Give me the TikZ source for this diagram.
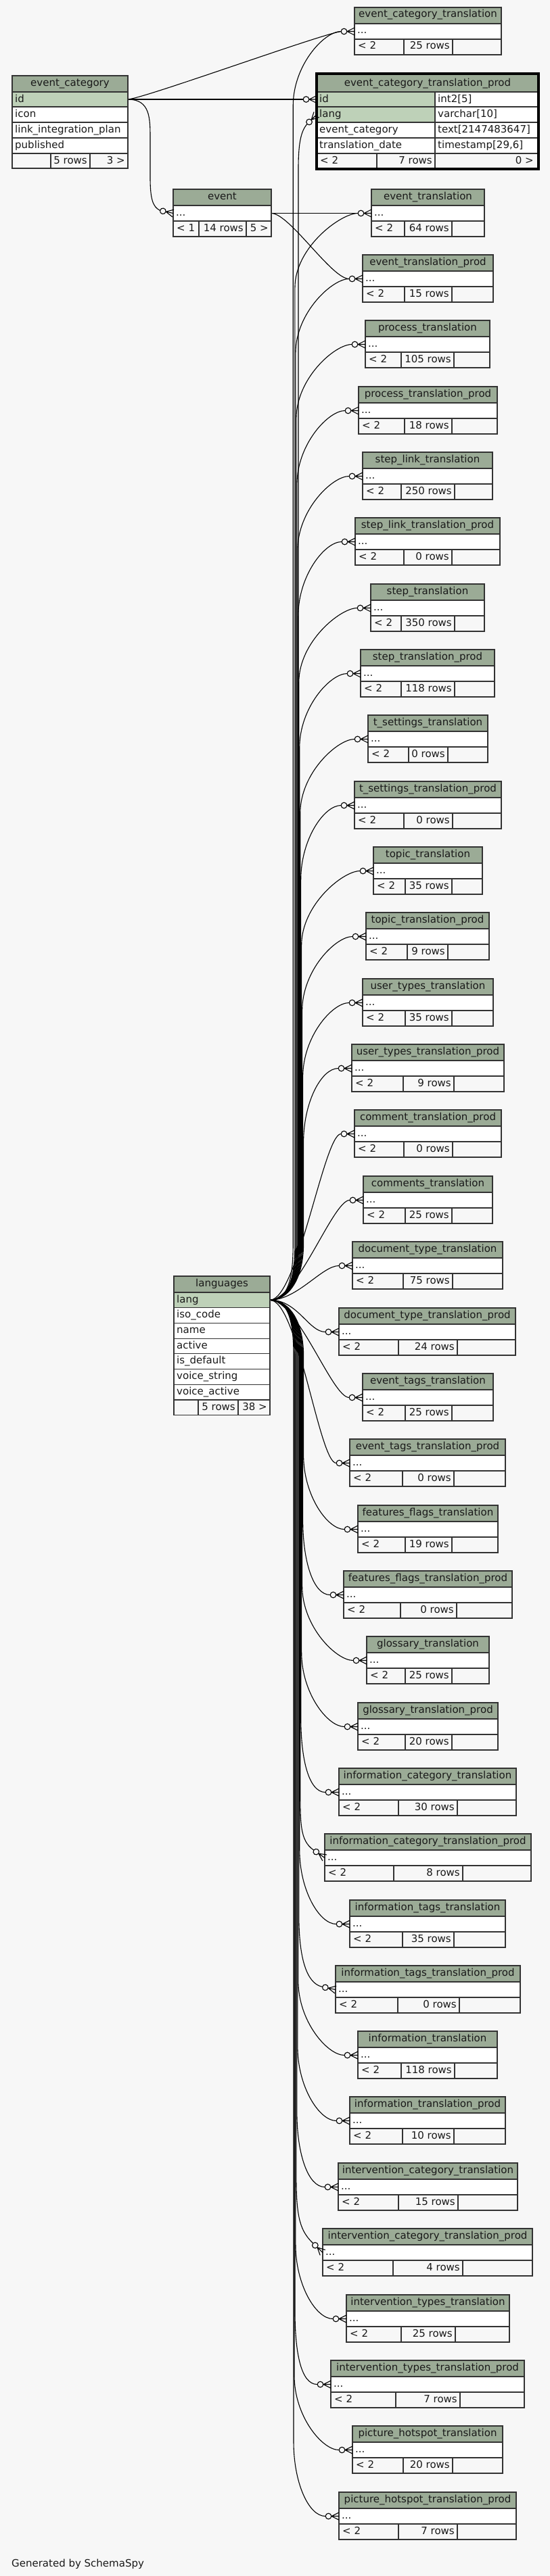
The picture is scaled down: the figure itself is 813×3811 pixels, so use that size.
\documentclass[tikz,border=0pt]{standalone}
\usepackage{fontspec}
\setmainfont{DejaVu Sans}
\usetikzlibrary{calc}
\definecolor{bgc}{HTML}{F7F7F7}
\definecolor{hdrc}{HTML}{9BAB96}
\definecolor{keyc}{HTML}{BED1B8}
\tikzset{
  conn/.style={line width=1.1pt, black},
  gridln/.style={line width=1.2pt, black!80},
  tabout/.style={line width=1.4pt, black!80},
  lbl/.style={inner sep=0pt, font=\fontsize{15}{18}\selectfont, text=black!90},
  crowodot/.pic={
    \draw[line width=1.1pt] (-11,0) -- (0,-5.5) (-11,0) -- (0,0) (-11,0) -- (0,5.5);
    \draw[line width=1.1pt, fill=bgc] (-15.5,0) circle[radius=4.3pt];
  }
}
% link from languages.lang to a translation table
\newcommand\llink[4]{%
  \pgfmathsetmacro\yv{#3}%
  \pgfmathsetmacro\dyv{\yv-1923}%
  \pgfmathsetmacro\bxv{452-0.01*abs(\dyv)}%
  \pgfmathsetmacro\exv{-20*cos(#4)}%
  \pgfmathsetmacro\eyv{-20*sin(#4)}%
  \pgfmathsetmacro\cxv{#2-45*cos(#4)}%
  \pgfmathsetmacro\cyv{\yv-45*sin(#4)}%
  \pgfmathtruncatemacro\modev{ifthenelse(\dyv<-300,1,ifthenelse(\dyv>300,2,0))}%
  \ifcase\modev
    \draw[conn] (Llang) .. controls (440,1923) and (\cxv,\cyv) .. ($(#1)+(\exv,\eyv)$);
  \or
    \draw[conn] (Llang) .. controls (425,1923) and (\bxv,1895) .. (\bxv,1840) -- (\bxv,\yv+110) .. controls (\bxv,\yv+50) and (\cxv,\cyv) .. ($(#1)+(\exv,\eyv)$);
  \or
    \draw[conn] (Llang) .. controls (425,1923) and (\bxv,1951) .. (\bxv,2006) -- (\bxv,\yv-110) .. controls (\bxv,\yv-50) and (\cxv,\cyv) .. ($(#1)+(\exv,\eyv)$);
  \fi
}
% standard translation table: name, x1, x2, top, rows, split1, split2, arrow angle
\newcommand\stdtab[8]{%
  \fill[hdrc] (#2,#4) rectangle (#3,#4+24);
  \fill[white] (#2,#4+24) rectangle (#3,#4+47);
  \fill[bgc] (#2,#4+47) rectangle (#3,#4+70);
  \draw[gridln] (#2,#4+47) -- (#3,#4+47) (#6,#4+47) -- (#6,#4+70) (#7,#4+47) -- (#7,#4+70);
  \draw[gridln, line width=2pt] (#2,#4+24) -- (#3,#4+24);
  \draw[tabout] (#2,#4) rectangle (#3,#4+70);
  \node[lbl, anchor=base] (#1-title) at ({(#2+#3)/2},#4+15) {#1};
  \node[lbl, anchor=base west] (#1-cols) at (#2+4,#4+39) {...};
  \node[lbl, anchor=base west] (#1-parents) at (#2+5,#4+62) {< 2};
  \node[lbl, anchor=base east] (#1-rows) at (#7-4,#4+62) {#5};
  \coordinate (#1) at (#2,#4+35.5);
  \llink{#1}{#2}{#4+35.5}{#8}
  \pic[rotate=-#8] at (#1) {crowodot};
}
\catcode`\_=12
\begin{document}
\begin{tikzpicture}[x=1pt,y=-1pt]
\useasboundingbox (0,0) rectangle (813,3811);
\fill[bgc] (0,0) rectangle (813,3811);

% anchor coordinates of fixed tables
\coordinate (Llang) at (399,1923.3);
\coordinate (ec-id) at (189,147);
\coordinate (ectp-id) at (468,147);
\coordinate (ectp-lang) at (468,169.5);
\coordinate (event-in) at (256,315.5);
\coordinate (event-out) at (401,315.5);

% ---------- standard translation tables with links from languages ----------
\foreach \n/\xa/\xb/\yt/\rw/\sa/\sb/\ag in {
event_category_translation/524/741/11/25 rows/597/669/0,
event_translation/549/716/280/64 rows/598/668/0,
event_translation_prod/536/729/377/15 rows/598/668/0,
process_translation/540/724/474/105 rows/593/671/0,
process_translation_prod/530/735/572/18 rows/598/668/0,
step_link_translation/536/728/669/250 rows/593/672/0,
step_link_translation_prod/525/739/766/0 rows/597/668/0,
step_translation/548/716/864/350 rows/593/672/0,
step_translation_prod/533/731/961/118 rows/593/672/0,
t_settings_translation/544/721/1058/0 rows/604/662/0,
t_settings_translation_prod/524/741/1156/0 rows/597/669/0,
topic_translation/552/713/1253/35 rows/599/668/0,
topic_translation_prod/541/723/1350/9 rows/602/662/0,
user_types_translation/536/729/1448/35 rows/599/668/0,
user_types_translation_prod/520/745/1545/9 rows/596/671/0,
comment_translation_prod/524/741/1642/0 rows/597/669/0,
comments_translation/537/728/1740/25 rows/599/668/0,
document_type_translation/521/743/1837/75 rows/596/669/0,
document_type_translation_prod/501/762/1935/24 rows/589/676/0,
event_tags_translation/536/729/2032/25 rows/599/668/0,
event_tags_translation_prod/517/747/2129/0 rows/595/671/0,
features_flags_translation/529/736/2227/19 rows/599/668/0,
features_flags_translation_prod/508/757/2324/0 rows/592/675/0,
glossary_translation/542/723/2421/25 rows/599/668/0,
glossary_translation_prod/529/736/2519/20 rows/599/668/0,
information_category_translation/501/763/2616/30 rows/589/676/0,
information_category_translation_prod/480/785/2713/8 rows/582/684/35,
information_tags_translation/517/747/2811/35 rows/595/671/0,
information_tags_translation_prod/496/769/2908/0 rows/588/679/12,
information_translation/529/735/3005/118 rows/593/672/0,
information_translation_prod/517/747/3102/10 rows/595/671/0,
intervention_category_translation/500/765/3200/15 rows/589/677/0,
intervention_category_translation_prod/477/787/3297/4 rows/581/684/44,
intervention_types_translation/512/753/3395/25 rows/593/673/0,
intervention_types_translation_prod/489/775/3492/7 rows/585/680/0,
picture_hotspot_translation/521/743/3589/20 rows/596/669/0,
picture_hotspot_translation_prod/501/763/3687/7 rows/589/676/0}
{\stdtab{\n}{\xa}{\xb}{\yt}{\rw}{\sa}{\sb}{\ag}}

% ---------- other connectors ----------
\draw[conn] (Llang) .. controls (425,1923) and (441,1895) .. (441,1840) -- (441,250) .. controls (441,215) and (444,195) .. ($(ectp-lang)+(-14.1,14.1)$);
\draw[conn] (ec-id) .. controls (215,145) and (470,52) .. ($(event_category_translation)+(-20,0)$);
\draw[conn] (ec-id) -- ($(ectp-id)+(-20,0)$);
\draw[conn] (ec-id) .. controls (222,147) and (222,175) .. (222,205) -- (222,262) .. controls (222,295) and (226,306) .. ($(event-in)+(-19.6,-4.2)$);
\draw[conn] (event-out) -- ($(event_translation)+(-20,0)$);
\draw[conn] (event-out) .. controls (428,315.5) and (490,412.5) .. ($(event_translation_prod)+(-20,0)$);

% ---------- event_category ----------
\fill[hdrc] (18,112) rectangle (189,136);
\fill[keyc] (18,136) rectangle (189,158);
\fill[white] (18,158) rectangle (189,227);
\fill[bgc] (18,227) rectangle (189,249);
\draw[gridln] (18,158) -- (189,158) (18,181) -- (189,181) (18,204) -- (189,204) (18,227) -- (189,227) (75,227) -- (75,249) (133,227) -- (133,249);
\draw[gridln, line width=2pt] (18,136) -- (189,136);
\draw[tabout] (18,112) rectangle (189,249);
\node[lbl, anchor=base] (ec-title) at (103.5,127.5) {event_category};
\node[lbl, anchor=base west] (ec-c1) at (22,151) {id};
\node[lbl, anchor=base west] (ec-c2) at (22,173.5) {icon};
\node[lbl, anchor=base west] (ec-c3) at (22,196.5) {link_integration_plan};
\node[lbl, anchor=base west] (ec-c4) at (22,219) {published};
\node[lbl, anchor=base east] (ec-rows) at (129,242) {5 rows};
\node[lbl, anchor=base east] (ec-children) at (185,242) {3 >};

% ---------- event ----------
\fill[hdrc] (256,280) rectangle (401,304);
\fill[white] (256,304) rectangle (401,327);
\fill[bgc] (256,327) rectangle (401,350);
\draw[gridln] (256,327) -- (401,327) (294,327) -- (294,350) (364,327) -- (364,350);
\draw[gridln, line width=2pt] (256,304) -- (401,304);
\draw[tabout] (256,280) rectangle (401,350);
\node[lbl, anchor=base] (ev-title) at (328.5,295) {event};
\node[lbl, anchor=base west] (ev-cols) at (260,319) {...};
\node[lbl, anchor=base west] (ev-parents) at (261,342) {< 1};
\node[lbl, anchor=base east] (ev-rows) at (360,342) {14 rows};
\node[lbl, anchor=base east] (ev-children) at (397,342) {5 >};
\pic[rotate=-12] at (event-in) {crowodot};

% ---------- event_category_translation_prod ----------
\fill[hdrc] (468,109) rectangle (796,136);
\fill[keyc] (468,136) rectangle (643,181);
\fill[white] (643,136) rectangle (796,181);
\fill[white] (468,181) rectangle (796,227);
\fill[bgc] (468,227) rectangle (796,250);
\draw[gridln] (468,158) -- (796,158) (468,181) -- (796,181) (468,204) -- (796,204) (468,227) -- (796,227) (643,136) -- (643,250) (557,227) -- (557,250);
\draw[gridln, line width=2pt] (468,136) -- (796,136);
\draw[line width=3.5pt, black] (468,109) rectangle (796,250);
\node[lbl, anchor=base] (ectp-title) at (632,127.5) {event_category_translation_prod};
\node[lbl, anchor=base west] (ectp-c1) at (472,151) {id};
\node[lbl, anchor=base west] (ectp-t1) at (647,151) {int2[5]};
\node[lbl, anchor=base west] (ectp-c2) at (472,173.5) {lang};
\node[lbl, anchor=base west] (ectp-t2) at (647,173.5) {varchar[10]};
\node[lbl, anchor=base west] (ectp-c3) at (472,196.5) {event_category};
\node[lbl, anchor=base west] (ectp-t3) at (647,196.5) {text[2147483647]};
\node[lbl, anchor=base west] (ectp-c4) at (472,219) {translation_date};
\node[lbl, anchor=base west] (ectp-t4) at (647,219) {timestamp[29,6]};
\node[lbl, anchor=base west] (ectp-parents) at (473,242) {< 2};
\node[lbl, anchor=base east] (ectp-rows) at (639,242) {7 rows};
\node[lbl, anchor=base east] (ectp-children) at (789,242) {0 >};
\pic at (ectp-id) {crowodot};
\pic[rotate=45] at (ectp-lang) {crowodot};

% ---------- languages ----------
\fill[hdrc] (257,1888) rectangle (399,1912);
\fill[keyc] (257,1912) rectangle (399,1934.7);
\fill[white] (257,1934.7) rectangle (399,2070.9);
\fill[bgc] (257,2070.9) rectangle (399,2093.6);
\draw[gridln] (257,1934.7) -- (399,1934.7) (257,1957.4) -- (399,1957.4) (257,1980.1) -- (399,1980.1)
  (257,2002.8) -- (399,2002.8) (257,2025.5) -- (399,2025.5) (257,2048.2) -- (399,2048.2) (257,2070.9) -- (399,2070.9)
  (293,2070.9) -- (293,2093.6) (352,2070.9) -- (352,2093.6);
\draw[gridln, line width=2pt] (257,1912) -- (399,1912);
\draw[tabout] (257,1888) rectangle (399,2093.6);
\node[lbl, anchor=base] (lg-title) at (328,1903.5) {languages};
\node[lbl, anchor=base west] (lg-c1) at (261,1927) {lang};
\node[lbl, anchor=base west] (lg-c2) at (261,1949.7) {iso_code};
\node[lbl, anchor=base west] (lg-c3) at (261,1972.4) {name};
\node[lbl, anchor=base west] (lg-c4) at (261,1995.1) {active};
\node[lbl, anchor=base west] (lg-c5) at (261,2017.8) {is_default};
\node[lbl, anchor=base west] (lg-c6) at (261,2040.5) {voice_string};
\node[lbl, anchor=base west] (lg-c7) at (261,2063.2) {voice_active};
\node[lbl, anchor=base east] (lg-rows) at (348,2086) {5 rows};
\node[lbl, anchor=base east] (lg-children) at (395,2086) {38 >};

\node[lbl, anchor=base west] (gen) at (17,3797) {Generated by SchemaSpy};
\end{tikzpicture}
\end{document}
